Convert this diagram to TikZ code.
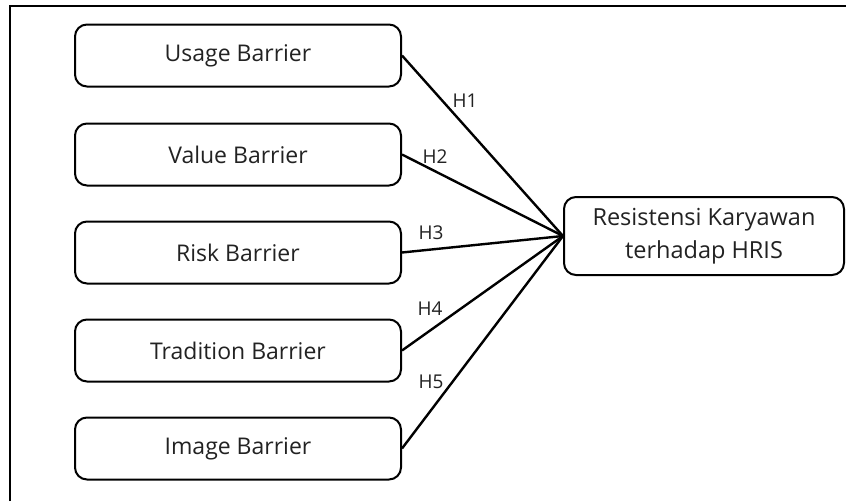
\documentclass[tikz,border=0pt]{standalone}
\usepackage{fontspec}
\setmainfont{Open Sans}
\definecolor{txt}{HTML}{222222}
\begin{document}
\begin{tikzpicture}[x=1pt,y=-1pt,
  barrier/.style={draw=black, line width=2pt, rounded corners=12pt, minimum width=326pt, minimum height=62pt, font=\fontsize{23}{26}\selectfont, text=txt, inner sep=0pt},
  target/.style={draw=black, line width=2pt, rounded corners=12pt, minimum width=280pt, minimum height=78pt, font=\fontsize{23.5}{33}\selectfont, text=txt, align=center, inner sep=0pt},
  link/.style={draw=black, line width=2.4pt},
  hlab/.style={font=\fontsize{19}{21}\selectfont, text=txt, inner sep=0pt}]
\useasboundingbox (0,0) rectangle (846,501);
\fill[white] (0,0) rectangle (846,501);
\draw[line width=2pt] (10,501) -- (10,6) -- (846,6);

\node[barrier] (u) at (238,55.5) {Usage Barrier};
\node[barrier] (v) at (238,154.5) {Value Barrier};
\node[barrier] (r) at (238,252.5) {Risk Barrier};
\node[barrier] (t) at (238,350.5) {Tradition Barrier};
\node[barrier] (i) at (238,448.5) {Image Barrier};
\node[target] (h) at (704,236) {Resistensi Karyawan\\terhadap HRIS};

\draw[link] (u.east) -- (h.west);
\draw[link] (v.east) -- (h.west);
\draw[link] (r.east) -- (h.west);
\draw[link] (t.east) -- (h.west);
\draw[link] (i.east) -- (h.west);

\node[hlab] (l1) at (465,101) {H1};
\node[hlab] (l2) at (435,157) {H2};
\node[hlab] (l3) at (431,233) {H3};
\node[hlab] (l4) at (430,309) {H4};
\node[hlab] (l5) at (431,382) {H5};
\end{tikzpicture}
\end{document}
